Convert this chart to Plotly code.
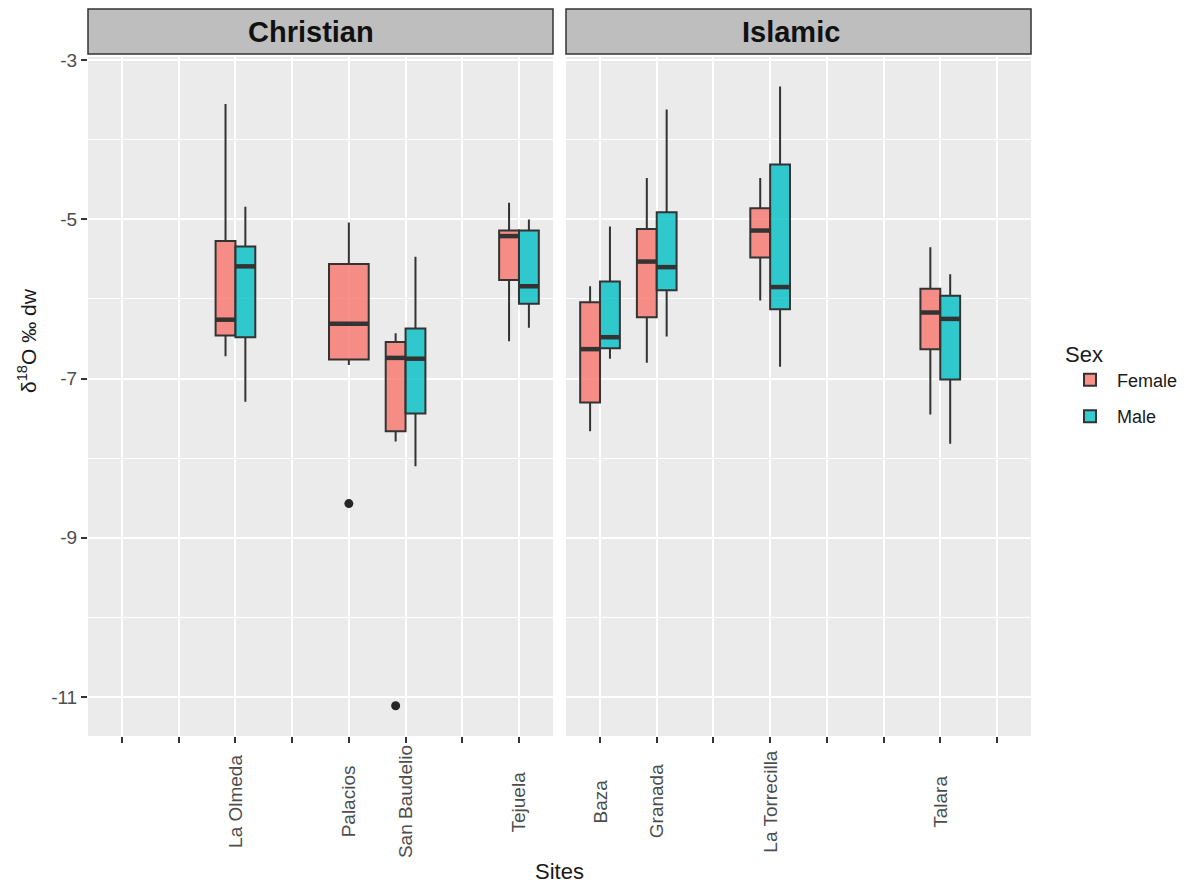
import plotly.graph_objects as go

# ---------------- data ----------------
christian_sites = ["", "", "La Olmeda", "", "Palacios", "San Baudelio", "", "Tejuela"]
islamic_sites = ["Baza", "Granada", "", "La Torrecilla", "", "", "Talara", ""]

female_sites = ["La Olmeda", "Palacios", "San Baudelio", "Tejuela", "Baza", "Granada", "La Torrecilla", "Talara"]
female_lower = [-6.72, -6.83, -7.79, -6.53, -7.66, -6.80, -6.02, -7.45]
female_q1 = [-6.46, -6.76, -7.66, -5.76, -7.30, -6.23, -5.48, -6.63]
female_median = [-6.26, -6.31, -6.74, -5.21, -6.63, -5.53, -5.14, -6.17]
female_q3 = [-5.27, -5.56, -6.54, -5.14, -6.04, -5.12, -4.86, -5.87]
female_upper = [-3.55, -5.04, -6.43, -4.79, -5.84, -4.48, -4.48, -5.35]

male_sites = ["La Olmeda", "San Baudelio", "Tejuela", "Baza", "Granada", "La Torrecilla", "Talara"]
male_lower = [-7.29, -8.10, -6.36, -6.75, -6.47, -6.85, -7.82]
male_q1 = [-6.48, -7.44, -6.06, -6.62, -5.89, -6.13, -7.01]
male_median = [-5.59, -6.75, -5.84, -6.48, -5.60, -5.85, -6.25]
male_q3 = [-5.34, -6.37, -5.14, -5.78, -4.91, -4.31, -5.96]
male_upper = [-4.84, -5.47, -5.00, -5.09, -3.62, -3.33, -5.69]

outlier_sites = ["Palacios", "San Baudelio"]
outlier_sex = ["Female", "Female"]
outlier_values = [-8.57, -11.11]

y_ticks = [-3, -5, -7, -9, -11]
y_tick_labels = ["-3", "-5", "-7", "-9", "-11"]
y_minor = [-4, -6, -8, -10]

# ---------------- styling ----------------
FONT = "Liberation Sans, Arial, sans-serif"
FILL = {"Female": "rgba(248,118,109,0.8)", "Male": "rgba(0,191,196,0.8)"}
EDGE = "#333333"
TOTAL_W = 0.7

W, H = 1191, 884
ML, MR, MT, MB = 88, 160, 57, 148
PW = W - ML - MR
PH = H - MT - MB


def px_x(px):
    return (px - ML) / PW


def px_y(py):
    return (H - MB - py) / PH


panels = [("Christian", christian_sites, "x", "y"), ("Islamic", islamic_sites, "x2", "y2")]


def locate(site):
    for _, cats, xa, ya in panels:
        if site in cats:
            return cats.index(site) + 1, xa, ya
    raise ValueError(site)


sex_tables = {
    "Female": (female_sites, female_lower, female_q1, female_median, female_q3, female_upper),
    "Male": (male_sites, male_lower, male_q1, male_median, male_q3, male_upper),
}


def box_geom(site, sex):
    pos, xa, ya = locate(site)
    present = [s for s in ["Female", "Male"] if site in sex_tables[s][0]]
    n = len(present)
    w = TOTAL_W / n
    i = present.index(sex)
    center = pos - TOTAL_W / 2 + w * (i + 0.5)
    return center, w, xa, ya


fig = go.Figure()
shown = set()
medians = []
for sex in ["Female", "Male"]:
    sites, lo, q1, med, q3, up = sex_tables[sex]
    for k, site in enumerate(sites):
        c, w, xa, ya = box_geom(site, sex)
        fig.add_trace(go.Box(
            x=[c], q1=[q1[k]], median=[med[k]], q3=[q3[k]],
            lowerfence=[lo[k]], upperfence=[up[k]],
            width=w, orientation="v", boxpoints=False, whiskerwidth=0,
            fillcolor=FILL[sex], line=dict(color=EDGE, width=2),
            name=sex, legendgroup=sex, showlegend=sex not in shown,
            xaxis=xa, yaxis=ya, hoverinfo="y"))
        shown.add(sex)
        medians.append((c, w, med[k], xa, ya))

for c, w, m, xa, ya in medians:
    fig.add_trace(go.Scatter(x=[c - w / 2, c + w / 2], y=[m, m], mode="lines",
                             line=dict(color=EDGE, width=4.5), showlegend=False,
                             hoverinfo="skip", xaxis=xa, yaxis=ya))

for site, sex, v in zip(outlier_sites, outlier_sex, outlier_values):
    c, w, xa, ya = box_geom(site, sex)
    fig.add_trace(go.Scatter(x=[c], y=[v], mode="markers",
                             marker=dict(color="#262626", size=9), showlegend=False,
                             xaxis=xa, yaxis=ya))

# ---------------- layout ----------------
xcommon = dict(range=[0.4, 8.6], tickvals=list(range(1, 9)), showticklabels=False,
               ticks="outside", ticklen=6, tickwidth=1.5, tickcolor=EDGE,
               showgrid=True, gridcolor="white", gridwidth=2, zeroline=False,
               showline=False, fixedrange=True)
ycommon = dict(range=[-11.49, -2.96], tickvals=y_ticks, ticktext=y_tick_labels, showgrid=True,
               gridcolor="white", gridwidth=2, zeroline=False, showline=False,
               minor=dict(tickvals=y_minor, showgrid=True, gridcolor="white", gridwidth=1, ticks=""))

fig.update_layout(
    width=W, height=H, autosize=False,
    margin=dict(l=ML, r=MR, t=MT, b=MB, pad=0, autoexpand=False),
    paper_bgcolor="white", plot_bgcolor="#ebebeb",
    font=dict(family=FONT, color="#1a1a1a"),
    boxmode="overlay",
    xaxis=dict(domain=[0, (553 - ML) / PW], anchor="y", **xcommon),
    xaxis2=dict(domain=[(566 - ML) / PW, 1], anchor="y2", **xcommon),
    yaxis=dict(domain=[0, 1], anchor="x", ticks="outside", ticklen=6, tickwidth=1.5,
               tickcolor=EDGE, tickfont=dict(size=19, color="#4d4d4d"), **ycommon),
    yaxis2=dict(domain=[0, 1], anchor="x2", matches="y", showticklabels=False, ticks="", **ycommon),
    showlegend=True,
    legend=dict(x=px_x(1063), y=px_y(333), xanchor="left", yanchor="top",
                title=dict(text="Sex", font=dict(size=22, color="#1a1a1a")),
                font=dict(size=18, color="#1a1a1a"), bgcolor="rgba(0,0,0,0)",
                traceorder="grouped", tracegroupgap=10, itemsizing="constant",
                itemwidth=44),
)

shapes = []
annotations = []
for (label, cats, xa, ya), (x0, x1) in zip(panels, [(88, 553), (566, 1031)]):
    shapes.append(dict(type="rect", xref="paper", yref="paper",
                       x0=px_x(x0), x1=px_x(x1), y0=px_y(54), y1=px_y(9),
                       fillcolor="#bebebe", line=dict(color=EDGE, width=1.5), layer="above"))
    for i, name in enumerate(cats):
        if name:
            annotations.append(dict(text=name, x=i + 1, xref=xa, y=px_y(801.5), yref="paper",
                                    textangle=-90, showarrow=False, xanchor="center", yanchor="middle",
                                    font=dict(size=19, color="#4d4d4d", family=FONT)))

annotations.append(dict(text="<b>Christian</b>", x=px_x(311), y=px_y(32), xref="paper", yref="paper",
                        showarrow=False, xanchor="center", yanchor="middle",
                        font=dict(size=29, color="#111111", family=FONT)))
annotations.append(dict(text="<b>Islamic</b>", x=px_x(791), y=px_y(32), xref="paper", yref="paper",
                        showarrow=False, xanchor="center", yanchor="middle",
                        font=dict(size=29, color="#111111", family=FONT)))
annotations.append(dict(text="Sites", x=px_x(559), y=px_y(871), xref="paper", yref="paper",
                        showarrow=False, xanchor="center", yanchor="middle",
                        font=dict(size=22, color="#1a1a1a", family=FONT)))
annotations.append(dict(text="δ<sup>18</sup>O ‰ dw", x=px_x(27), y=px_y(341), xref="paper", yref="paper",
                        showarrow=False, xanchor="center", yanchor="middle", textangle=-90,
                        font=dict(size=21, color="#1a1a1a", family=FONT)))

fig.update_layout(shapes=shapes, annotations=annotations)
fig.write_html("out.html", config={"displayModeBar": False},
               post_script="document.body.style.margin='0';document.body.style.overflow='hidden';")
